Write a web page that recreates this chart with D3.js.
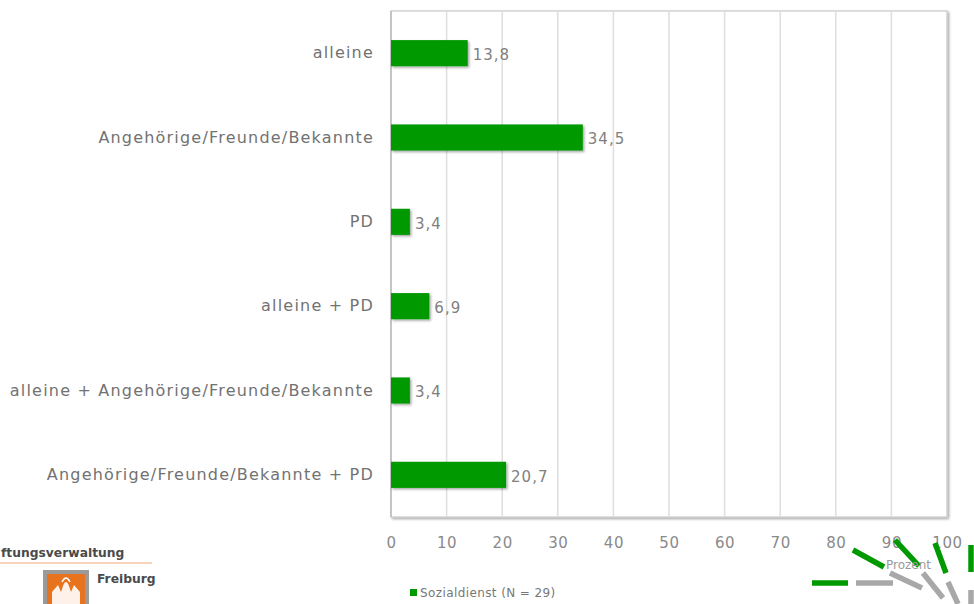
<!DOCTYPE html>
<html>
<head>
<meta charset="utf-8">
<script src="https://cdn.jsdelivr.net/npm/d3@7"></script>
<style>
  html, body { margin: 0; padding: 0; background: #fff; }
  svg { display: block; }
  text { font-family: "DejaVu Sans", sans-serif; }
</style>
</head>
<body>
<svg id="chart" width="974" height="604"></svg>
<script>
// Wohnsituation nach Entlassung – Sozialdienst
const categories = [
  "alleine",
  "Angehörige/Freunde/Bekannte",
  "PD",
  "alleine + PD",
  "alleine + Angehörige/Freunde/Bekannte",
  "Angehörige/Freunde/Bekannte + PD"
];
const values = [13.8, 34.5, 3.4, 6.9, 3.4, 20.7];
const tickValues = [0, 10, 20, 30, 40, 50, 60, 70, 80, 90, 100];
const seriesName = "Sozialdienst (N = 29)";
const axisTitle = "Prozent";

const svg = d3.select("#chart");
const plot = { left: 391, right: 947, top: 11, bottom: 517 };
const green = "#009900";
const fmt = v => String(v).replace(".", ",");

const defs = svg.append("defs");
const sh = defs.append("filter").attr("id", "shadow")
  .attr("x", "-10%").attr("y", "-20%").attr("width", "130%").attr("height", "160%");
sh.append("feDropShadow").attr("dx", 1.5).attr("dy", 1.5).attr("stdDeviation", 1.2)
  .attr("flood-color", "#000").attr("flood-opacity", 0.35);

const x = d3.scaleLinear().domain([0, 100]).range([plot.left, plot.right]);
const y = d3.scaleBand().domain(categories)
  .range([plot.top, plot.bottom]).paddingInner(0.69).paddingOuter(0.345);

// plot frame with soft shadow on right/bottom
svg.append("rect")
  .attr("x", plot.left).attr("y", plot.top)
  .attr("width", plot.right - plot.left).attr("height", plot.bottom - plot.top)
  .attr("fill", "#fff").attr("stroke", "#c8c8c8").attr("stroke-width", 1.2)
  .attr("filter", "url(#shadow)");

// vertical gridlines
svg.append("g").selectAll("line").data(tickValues.slice(1, -1)).join("line")
  .attr("x1", d => x(d)).attr("x2", d => x(d))
  .attr("y1", plot.top).attr("y2", plot.bottom)
  .attr("stroke", "#dedede").attr("stroke-width", 1.5);

// left axis line
svg.append("line").attr("x1", plot.left).attr("x2", plot.left)
  .attr("y1", plot.top).attr("y2", plot.bottom)
  .attr("stroke", "#bdbdbd").attr("stroke-width", 1.5);

// x axis tick labels
const xAxis = d3.axisBottom(x).tickValues(tickValues).tickSize(0).tickPadding(0)
  .tickFormat(d3.format("d"));
const gx = svg.append("g").attr("transform", `translate(0,${plot.bottom + 20})`).call(xAxis);
gx.select(".domain").remove();
gx.selectAll("text").attr("fill", "#8a8a8a").attr("font-size", 15)
  .attr("font-family", "DejaVu Sans, sans-serif").attr("letter-spacing", 0.6)
  .attr("dy", "0.35em").attr("y", 6);

// category labels
const gy = svg.append("g").attr("transform", `translate(${plot.left - 17},0)`)
  .call(d3.axisLeft(y).tickSize(0).tickPadding(0));
gy.select(".domain").remove();
gy.selectAll("text").attr("fill", "#727272").attr("font-size", 16)
  .attr("font-family", "DejaVu Sans, sans-serif").attr("letter-spacing", 1.2);

// bars
svg.append("g").selectAll("rect").data(values).join("rect")
  .attr("x", x(0)).attr("y", (d, i) => y(categories[i]))
  .attr("width", d => x(d) - x(0)).attr("height", y.bandwidth())
  .attr("fill", green).attr("filter", "url(#shadow)");

// value labels
svg.append("g").selectAll("text").data(values).join("text")
  .attr("x", d => x(d) + 5)
  .attr("y", (d, i) => y(categories[i]) + y.bandwidth() / 2 + 1.5)
  .attr("dy", "0.35em").attr("font-size", 15).attr("letter-spacing", 1)
  .attr("fill", "#808080")
  .text(d => fmt(d));

// legend
svg.append("rect").attr("x", 410).attr("y", 589).attr("width", 7).attr("height", 7).attr("fill", green);
svg.append("text").attr("x", 420).attr("y", 593).attr("dy", "0.35em")
  .attr("font-size", 12).attr("letter-spacing", 0.4).attr("fill", "#777").text(seriesName);

// decorative fan strokes in the corner
const strokes = [
  { c: green, p: [[812, 583], [848, 583]] },
  { c: "#a8a8a8", p: [[856, 583], [893, 583]] },
  { c: green, p: [[853, 550], [884, 567]] },
  { c: "#a8a8a8", p: [[890, 573], [922, 588]] },
  { c: green, p: [[895, 540], [919, 566]] },
  { c: "#a8a8a8", p: [[923, 573], [943, 598]] },
  { c: green, p: [[935, 543], [946, 573]] },
  { c: "#a8a8a8", p: [[948, 582], [958, 604]] },
  { c: green, p: [[971, 545], [971, 572]] },
  { c: "#a8a8a8", p: [[971, 590], [971, 604]] }
];
svg.append("g").selectAll("line").data(strokes).join("line")
  .attr("x1", d => d.p[0][0]).attr("y1", d => d.p[0][1])
  .attr("x2", d => d.p[1][0]).attr("y2", d => d.p[1][1])
  .attr("stroke", d => d.c).attr("stroke-width", 5.5);

svg.append("text").attr("x", 886).attr("y", 569).attr("font-size", 12)
  .attr("fill", "#9a9a9a").text(axisTitle);

// Stiftungsverwaltung Freiburg logo
const logo = svg.append("g");
logo.append("text").attr("x", 1).attr("y", 557)
  .attr("font-family", "DejaVu Sans Condensed, DejaVu Sans, sans-serif")
  .attr("font-weight", "bold").attr("font-size", 12.3).attr("fill", "#4a4a4a")
  .text("ftungsverwaltung");
logo.append("line").attr("x1", 0).attr("x2", 152).attr("y1", 563).attr("y2", 563)
  .attr("stroke", "#f2a77a").attr("stroke-width", 1.2);
logo.append("rect").attr("x", 43).attr("y", 570).attr("width", 46).attr("height", 40)
  .attr("fill", "#9a9a9a");
logo.append("rect").attr("x", 47).attr("y", 574).attr("width", 38).attr("height", 36)
  .attr("fill", "#e8731f");
logo.append("path")
  .attr("d", "M52,604 L52,592 L58,585 L61,592 L63,586 Q66,578 69,586 L71,592 L74,585 L80,592 L80,604 Z")
  .attr("fill", "#fff").attr("opacity", 0.9);
logo.append("path")
  .attr("d", "M62,582 Q66,574 70,582").attr("fill", "none").attr("stroke", "#fff").attr("stroke-width", 1.5);
logo.append("text").attr("x", 97).attr("y", 583)
  .attr("font-family", "DejaVu Sans Condensed, DejaVu Sans, sans-serif")
  .attr("font-weight", "bold").attr("font-size", 12.3).attr("fill", "#4a4a4a")
  .text("Freiburg");
</script>
</body>
</html>
